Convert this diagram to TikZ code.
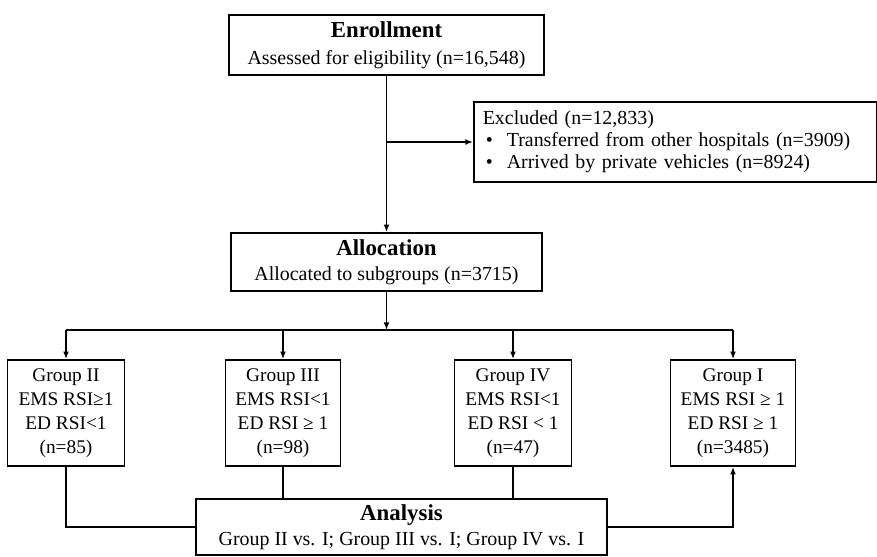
\documentclass[tikz,border=0pt]{standalone}
\usepackage{fontspec}
\setmainfont{Liberation Serif}
\usetikzlibrary{arrows.meta,positioning}

\newcommand{\boxhead}[1]{{\fontsize{19.5}{21}\selectfont\textbf{#1}}}

\begin{document}
\begin{tikzpicture}[x=0.03cm, y=-0.03cm,
    box/.style={draw, line width=1.4pt, align=center, inner sep=2pt,
        font=\fontsize{17}{21.3}\selectfont},
    grp/.style={box, minimum height=106*0.03cm, font=\fontsize{16.5}{20.4}\selectfont},
    conn/.style={line width=1.3pt},
    arr/.style={conn, -{Latex[length=6.5pt,width=5pt]}}]
    \def\px{0.03cm} % one pixel of the 877x556 frame
    \useasboundingbox (0,0) rectangle (877,556);
    % top of the flow
    \node[box, minimum width=315*\px, minimum height=60*\px, font=\fontsize{17}{23}\selectfont] (enroll) at (386.5,45)
        {\boxhead{Enrollment}\\Assessed for eligibility (n=16,548)};
    \node[box, anchor=west, align=left, inner xsep=9*\px, text width=385*\px,
        minimum height=80*\px, font=\fontsize{17}{18.7}\selectfont] (excl) at (473,142)
        {\begin{tabular}{@{}l@{}l@{}}
         \multicolumn{2}{@{}l@{}}{Excluded (n=12,833)}\\
         \hspace*{0.09cm}\makebox[0.63cm][l]{\textbullet} & Transferred from other hospitals (n=3909)\\
         \hspace*{0.09cm}\makebox[0.63cm][l]{\textbullet} & Arrived by private vehicles (n=8924)
         \end{tabular}};
    \node[box, minimum width=311*\px, minimum height=58*\px] (alloc) at (386.5,262)
        {\boxhead{Allocation}\\Allocated to subgroups (n=3715)};
    % the four subgroups
    \node[grp, minimum width=117*\px] (g2) at (66,413)
        {Group II\\EMS RSI≥1\\ED RSI<1\\(n=85)};
    \node[grp, minimum width=115*\px] (g3) at (283,413)
        {Group III\\EMS RSI<1\\ED RSI ≥ 1\\(n=98)};
    \node[grp, minimum width=117*\px] (g4) at (513,413)
        {Group IV\\EMS RSI<1\\ED RSI < 1\\(n=47)};
    \node[grp, minimum width=125*\px] (g1) at (733,413)
        {Group I\\EMS RSI ≥ 1\\ED RSI ≥ 1\\(n=3485)};
    \node[box, minimum width=411*\px, minimum height=56*\px] (analysis) at (401.5,527)
        {\boxhead{Analysis}\\Group II vs. I; Group III vs. I; Group IV vs. I};
    % connectors
    \draw[arr] (enroll.south) -- (alloc.north);
    \coordinate (split) at (enroll.south |- excl.west);
    \draw[arr] (split) -- (excl.west);
    \coordinate (fork) at (386.5,330);
    \draw[arr] (alloc.south) -- (fork);
    \draw[conn] (g2.north |- fork) -- (g1.north |- fork);
    \foreach \g in {g2,g3,g4,g1} {
        \draw[arr] (\g.north |- fork) -- (\g.north);
    }
    \draw[conn] (g2.south) |- (analysis.west);
    \draw[conn] (g3.south) -- (g3.south |- analysis.north);
    \draw[conn] (g4.south) -- (g4.south |- analysis.north);
    \draw[arr] (analysis.east) -| (g1.south);
\end{tikzpicture}
\end{document}
